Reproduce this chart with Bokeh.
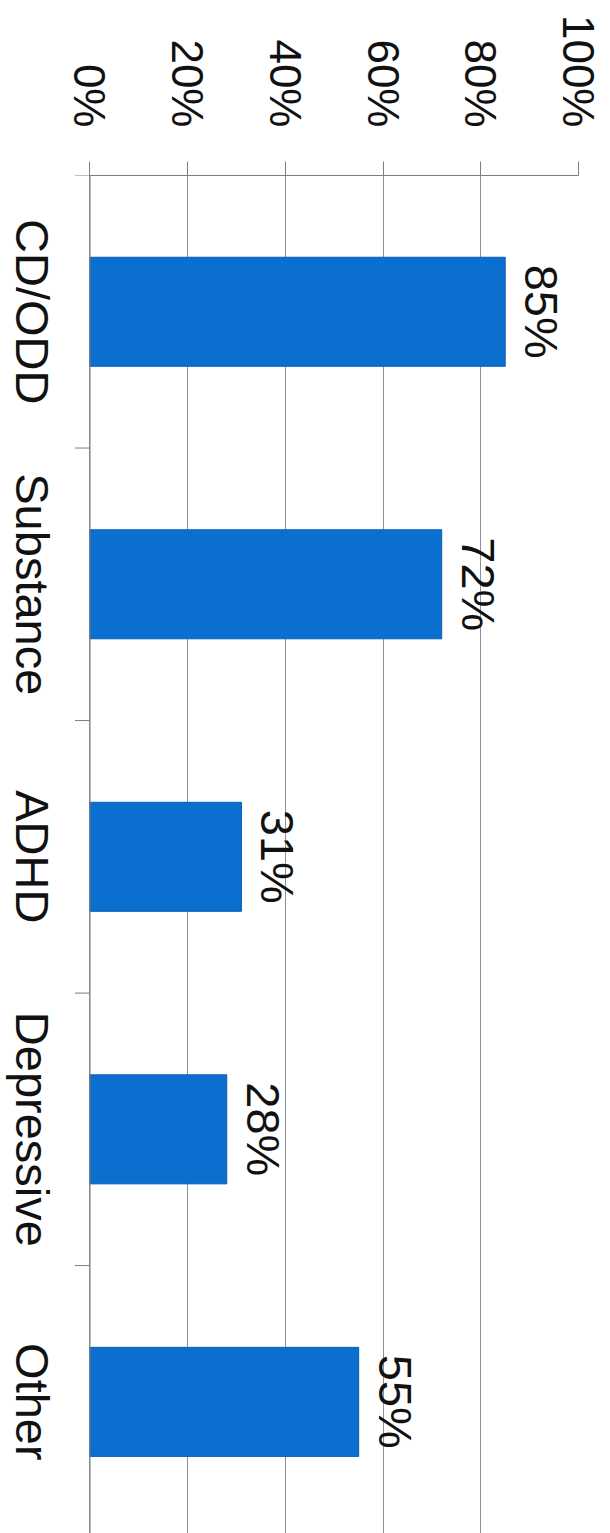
import math
from bokeh.plotting import figure
from bokeh.models import Range1d, FixedTicker, PrintfTickFormatter, LabelSet, ColumnDataSource, Span
from bokeh.core.properties import value
from bokeh.embed import file_html
from bokeh.resources import INLINE

# ---- data ----
categories = ["CD/ODD", "Substance", "ADHD", "Depressive", "Other"]
values = [85, 72, 31, 28, 55]
value_labels = ["85%", "72%", "31%", "28%", "55%"]
tick_values = [0, 20, 40, 60, 80, 100]

positions = [i + 0.5 for i in range(len(categories))]
boundaries = list(range(len(categories) + 1))

FONT = "Liberation Sans"
TEXT = "#111111"
GRID = "#8c9198"
AXIS = "#7a7f86"
BAR = "#0a6fcf"

# frame spans the full width; the value range is extended to the left so the
# category labels (outside 0..100) can sit inside the drawing area
p = figure(width=610, height=1533, output_backend="svg", toolbar_location=None,
           x_range=Range1d(-18.32, 100), y_range=Range1d(4.983, 0),
           x_axis_location="above",
           min_border_left=0, min_border_right=32, min_border_top=175, min_border_bottom=0)
p.outline_line_color = None
p.background_fill_color = "white"
p.border_fill_color = "white"

# value axis (top)
xa = p.xaxis[0]
xa.ticker = FixedTicker(ticks=tick_values)
xa.formatter = PrintfTickFormatter(format="%d%%")
xa.bounds = (0, 100)
xa.major_label_orientation = -math.pi / 2
xa.major_tick_out = 14
xa.major_tick_in = 0
xa.minor_tick_out = 0
xa.minor_tick_in = 0
xa.axis_line_color = AXIS
xa.major_tick_line_color = AXIS
xa.major_label_text_font = FONT
xa.major_label_text_font_size = "44px"
xa.major_label_text_color = TEXT
xa.major_label_standoff = 34

p.yaxis.visible = False

p.xgrid.ticker = FixedTicker(ticks=tick_values)
p.xgrid.grid_line_color = GRID
p.ygrid.visible = False

# category axis line at 0%
p.add_layout(Span(location=0, dimension="height", line_color=AXIS, line_width=1))

src = ColumnDataSource(dict(cat=categories, pos=positions, val=values, lab=value_labels,
                            zero=[0] * len(categories)))

# category boundary tick marks (15 px long, pointing left from the axis line)
tick_src = ColumnDataSource(dict(b=boundaries, zero=[0] * len(boundaries)))
tick_len = 15 / (488.5 / 100)
p.segment(x0="zero", y0="b", x1=-tick_len, y1="b", source=tick_src,
          line_color=AXIS, line_width=1)

p.hbar(y="pos", left=0, right="val", height=0.4, source=src,
       fill_color=BAR, line_color="#0a5fb5", line_width=1)

val_labels = LabelSet(x="val", y="pos", text="lab", source=src, angle=-math.pi / 2,
                      x_offset=20, text_align="center", text_baseline="alphabetic",
                      text_font=value(FONT), text_font_size=value("47px"), text_color=TEXT)
p.add_layout(val_labels)

cat_labels = LabelSet(x="zero", y="pos", text="cat", source=src, angle=-math.pi / 2,
                      x_offset=-74, text_align="center", text_baseline="alphabetic",
                      text_font=value(FONT), text_font_size=value("47px"), text_color=TEXT)
p.add_layout(cat_labels)

open("out.html", "w").write(file_html(p, INLINE))
